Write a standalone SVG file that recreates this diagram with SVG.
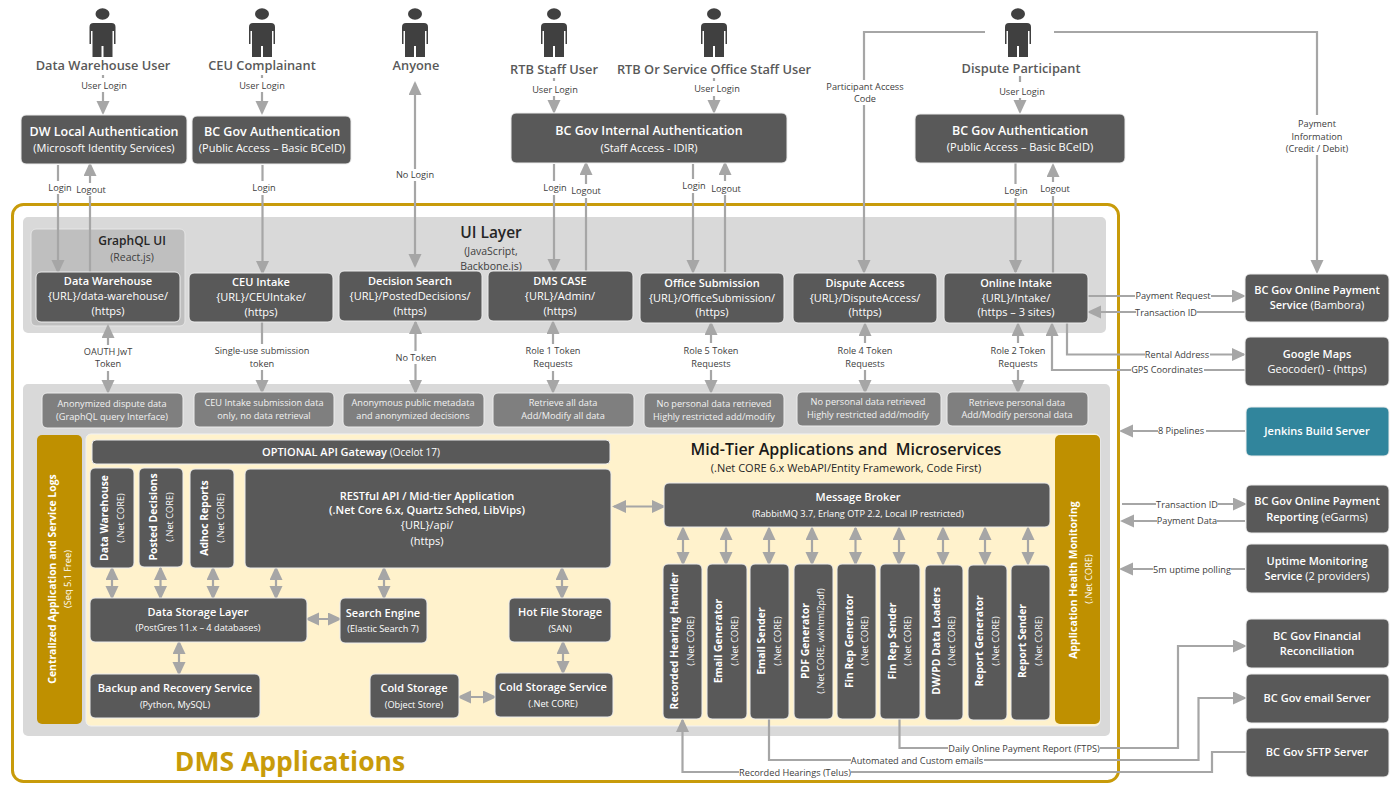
<svg xmlns="http://www.w3.org/2000/svg" width="1400" height="797" viewBox="0 0 1400 797">
<style>
text{font-family:"Open Sans","Liberation Sans",sans-serif;text-anchor:middle;white-space:pre}
.bg{fill:#fff}
.frame{fill:none;stroke:#c89b0a;stroke-width:3}
.layer{fill:#d9d9d9}
.n{fill:#595959;stroke:#ededed;stroke-width:1}
.g{fill:#7f7f7f;stroke:#ededed;stroke-width:1}
.side{fill:#bf9000}
.cream{fill:#fff2cc;stroke:#f2f2f2;stroke-width:1}
.t{fill:#fff;font-weight:600;font-size:11px}
.v{fill:#fff;font-weight:700;font-size:10.400px}
.s{fill:#fff;font-size:11px}
.h{fill:#fff;font-weight:600;font-size:12.500px}
.sm{fill:#fff;font-size:9.200px}
.gt{fill:#f2f2f2;font-size:9.200px}
.p{fill:#595959;font-weight:600;font-size:12.800px}
.l{fill:#404040;font-size:9.200px}
.c{fill:none;stroke:#a6a6a6;stroke-width:2.200}
.e{marker-end:url(#a)}
.b{marker-start:url(#a);marker-end:url(#a)}
</style>
<defs>
<marker id="a" markerUnits="userSpaceOnUse" markerWidth="15" markerHeight="14" viewBox="0 0 15 14" refX="12" refY="6.500" orient="auto-start-reverse"><path d="M0,0 L14,6.500 L0,13 Z" fill="#a6a6a6"/></marker>
<g id="person"><ellipse cx="0" cy="14" rx="7" ry="5.700" fill="#404040"/><path fill="#404040" d="M-9,23 H9 Q13,23 13,27 V44 H11.500 V31 H10 V57 H1 V46 H-1 V57 H-10 V31 H-11.500 V44 H-13 V27 Q-13,23 -9,23 Z"/></g>
</defs>
<rect class="bg" width="1400" height="797"/>

<g id="dms-frame"><rect class="frame" x="12.500" y="204.500" width="1106" height="577" rx="11"/><text x="290" y="771" font-size="26.500" font-weight="700" fill="#c89b0a">DMS Applications</text></g>
<g id="ui-layer"><rect class="layer" x="23" y="217" width="1083" height="116" rx="5"/><text x="491" y="238" font-size="15.500" font-weight="600" fill="#262626">UI Layer</text><text x="491" y="255" font-size="10.500" fill="#404040">(JavaScript,</text><text x="491" y="270" font-size="10.500" fill="#404040">Backbone.js)</text></g>
<g id="graphql-ui"><rect x="31" y="229" width="154" height="97" rx="5" fill="#bfbfbf" stroke="#e6e6e6"/><text x="132" y="245" font-size="12" font-weight="600" fill="#262626">GraphQL UI</text><text x="132" y="261" font-size="10.500" fill="#404040">(React.js)</text></g>
<g id="midtier-layer"><rect class="layer" x="23" y="384" width="1087" height="352" rx="5"/><rect class="cream" x="86" y="434" width="1014" height="292" rx="5"/><text x="846" y="455" font-size="16" font-weight="600" fill="#1a1a1a">Mid-Tier Applications and  Microservices</text><text x="846" y="472" font-size="11" fill="#262626">(.Net CORE 6.x WebAPI/Entity Framework, Code First)</text></g>

<g id="connectors">
<path class="c e" d="M103,75 V78 M103,92 V113"/>
<path class="c e" d="M262,75 V78 M262,92 V113"/>
<path class="c b" d="M415,83 V169 M415,181 V266"/>
<path class="c e" d="M554,78 V81 M554,96 V112"/>
<path class="c e" d="M714,78 V81 M714,96 V112"/>
<path class="c e" d="M1020,76 V82 M1020,98 V112"/>
<path class="c e" d="M58,165 V181 M58,194 V272"/>
<path class="c e" d="M90,272 V196 M90,183 V164"/>
<path class="c e" d="M262.500,165 V181 M262.500,195 V273"/>
<path class="c e" d="M554,164 V181 M554,195 V271"/>
<path class="c e" d="M586,271 V198 M586,184 V163"/>
<path class="c e" d="M693,164 V179 M693,193 V272"/>
<path class="c e" d="M725,272 V195 M725,181 V163"/>
<path class="c e" d="M985,32 H864 V80 M864,105 V272"/>
<path class="c e" d="M1015.500,163 V184 M1015.500,198 V272"/>
<path class="c e" d="M1053,273 V196 M1053,182 V165"/>
<path class="c e" d="M1054,32 H1317 V115 M1317,155 V272"/>
<path class="c b" d="M108,326 V345 M108,371 V392"/>
<path class="c e" d="M262,322 V344 M262,370 V392"/>
<path class="c b" d="M415.500,322 V351 M415.500,364 V392"/>
<path class="c b" d="M553,322 V344 M553,371 V392"/>
<path class="c b" d="M711,323 V343 M711,370 V392"/>
<path class="c b" d="M865,324 V343 M865,370 V392"/>
<path class="c b" d="M1018,324 V343 M1018,370 V392"/>
<path class="c e" d="M1088,296 H1135 M1211,296 H1244"/>
<path class="c e" d="M1245,312 H1197 M1136,312 H1089"/>
<path class="c e" d="M1067,323 V354.500 H1145 M1210,354.500 H1244"/>
<path class="c e" d="M1245,370 H1204 M1131,370 H1052 V324"/>
<path class="c e" d="M1245,431 H1206 M1158,431 H1121"/>
<path class="c e" d="M1122,504 H1156 M1218,504 H1245"/>
<path class="c e" d="M1245,521 H1217 M1157,521 H1122"/>
<path class="c e" d="M1245,569 H1231 M1153,569 H1121"/>
<path class="c e" d="M899.500,718 V748 H948 M1100,748 H1178 V646 H1245"/>
<path class="c e" d="M769,718 V760 H851 M984,760 H1198.500 V698 H1245"/>
<path class="c e" d="M1246,752 H1212 V772 H851 M739,772 H682.500 V720"/>
<path class="c b" d="M614,506.500 H664"/>
<path class="c b" d="M112,568 V598"/>
<path class="c b" d="M160.500,568 V598"/>
<path class="c b" d="M213,568 V598"/>
<path class="c b" d="M276,568 V598"/>
<path class="c b" d="M384,568 V598"/>
<path class="c b" d="M562,568 V598"/>
<path class="c b" d="M307,619 H340"/>
<path class="c b" d="M179,642 V674"/>
<path class="c b" d="M563,642 V673"/>
<path class="c b" d="M459,697 H495"/>
<path class="c b" d="M683,528 V564"/>
<path class="c b" d="M726,528 V564"/>
<path class="c b" d="M769,528 V564"/>
<path class="c b" d="M812,528 V564"/>
<path class="c b" d="M855.500,528 V564"/>
<path class="c b" d="M899,528 V564"/>
<path class="c b" d="M943,528 V564"/>
<path class="c b" d="M985,528 V564"/>
<path class="c b" d="M1028,528 V564"/>
</g>

<g id="connector-labels">
<text class="l" x="104" y="89">User Login</text>
<text class="l" x="262" y="89">User Login</text>
<text class="l" x="555" y="93">User Login</text>
<text class="l" x="717" y="92">User Login</text>
<text class="l" x="1022" y="95">User Login</text>
<text class="l" x="60" y="191">Login</text>
<text class="l" x="91" y="193">Logout</text>
<text class="l" x="264" y="191">Login</text>
<text class="l" x="415" y="178">No Login</text>
<text class="l" x="555" y="191">Login</text>
<text class="l" x="586" y="194">Logout</text>
<text class="l" x="694" y="189">Login</text>
<text class="l" x="726" y="192">Logout</text>
<text class="l" x="865" y="90">Participant Access</text>
<text class="l" x="865" y="102">Code</text>
<text class="l" x="1016" y="194">Login</text>
<text class="l" x="1055" y="192">Logout</text>
<text class="l" x="1317" y="127">Payment</text>
<text class="l" x="1317" y="140">Information</text>
<text class="l" x="1317" y="152">(Credit / Debit)</text>
<text class="l" x="108" y="355">OAUTH JwT</text>
<text class="l" x="108" y="367">Token</text>
<text class="l" x="262" y="354">Single-use submission</text>
<text class="l" x="262" y="367">token</text>
<text class="l" x="416" y="361">No Token</text>
<text class="l" x="553" y="354">Role 1 Token</text>
<text class="l" x="553" y="367">Requests</text>
<text class="l" x="711" y="354">Role 5 Token</text>
<text class="l" x="711" y="367">Requests</text>
<text class="l" x="865" y="354">Role 4 Token</text>
<text class="l" x="865" y="367">Requests</text>
<text class="l" x="1018" y="354">Role 2 Token</text>
<text class="l" x="1018" y="367">Requests</text>
<text class="l" x="1173" y="299">Payment Request</text>
<text class="l" x="1166" y="316">Transaction ID</text>
<text class="l" x="1177" y="358">Rental Address</text>
<text class="l" x="1167" y="373">GPS Coordinates</text>
<text class="l" x="1181" y="434">8 Pipelines</text>
<text class="l" x="1187" y="508">Transaction ID</text>
<text class="l" x="1187" y="524">Payment Data</text>
<text class="l" x="1192" y="573">5m uptime polling</text>
<text class="l" x="1024" y="752">Daily Online Payment Report (FTPS)</text>
<text class="l" x="917" y="764">Automated and Custom emails</text>
<text class="l" x="795" y="776">Recorded Hearings (Telus)</text>
</g>

<g id="u-dw"><use href="#person" x="102.500"/><text class="p" x="103" y="70">Data Warehouse User</text></g>
<g id="u-ceu"><use href="#person" x="262"/><text class="p" x="262" y="70">CEU Complainant</text></g>
<g id="u-anyone"><use href="#person" x="415"/><text class="p" x="416" y="70">Anyone</text></g>
<g id="u-rtb"><use href="#person" x="554"/><text class="p" x="554" y="74">RTB Staff User</text></g>
<g id="u-office"><use href="#person" x="714"/><text class="p" x="714" y="74">RTB Or Service Office Staff User</text></g>
<g id="u-participant"><use href="#person" x="1018"/><text class="p" x="1021" y="73">Dispute Participant</text></g>

<g id="auth-dw"><rect class="n" x="21" y="115" width="166" height="49" rx="5"/><text class="h" x="104" y="136">DW Local Authentication</text><text class="s" x="104" y="152">(Microsoft Identity Services)</text></g>
<g id="auth-ceu"><rect class="n" x="192" y="116" width="159" height="48" rx="5"/><text class="h" x="272" y="136">BC Gov Authentication</text><text class="s" x="272" y="152">(Public Access – Basic BCeID)</text></g>
<g id="auth-internal"><rect class="n" x="511" y="113" width="276" height="50" rx="5"/><text class="h" x="649" y="135">BC Gov Internal Authentication</text><text class="s" x="649" y="152">(Staff Access - IDIR)</text></g>
<g id="auth-public"><rect class="n" x="915" y="114" width="210" height="49" rx="5"/><text class="h" x="1020" y="135">BC Gov Authentication</text><text class="s" x="1020" y="151">(Public Access – Basic BCeID)</text></g>

<g id="ui-dw"><rect class="n" x="36" y="272" width="144" height="50" rx="5"/><text class="t" x="108" y="285">Data Warehouse</text><text class="s" x="108" y="300">{URL}/data-warehouse/</text><text class="s" x="108" y="315">(https)</text></g>
<g id="ui-ceu"><rect class="n" x="189" y="273" width="144" height="49" rx="5"/><text class="t" x="261" y="286">CEU Intake</text><text class="s" x="261" y="301">{URL}/CEUIntake/</text><text class="s" x="261" y="316">(https)</text></g>
<g id="ui-decision"><rect class="n" x="339" y="271" width="143" height="50" rx="5"/><text class="t" x="410" y="285">Decision Search</text><text class="s" x="410" y="300">{URL}/PostedDecisions/</text><text class="s" x="410" y="315">(https)</text></g>
<g id="ui-dms"><rect class="n" x="488" y="271" width="145" height="50" rx="5"/><text class="t" x="560" y="285">DMS CASE</text><text class="s" x="560" y="300">{URL}/Admin/</text><text class="s" x="560" y="315">(https)</text></g>
<g id="ui-office"><rect class="n" x="640" y="273" width="144" height="50" rx="5"/><text class="t" x="712" y="287">Office Submission</text><text class="s" x="712" y="302">{URL}/OfficeSubmission/</text><text class="s" x="712" y="316">(https)</text></g>
<g id="ui-dispute"><rect class="n" x="793" y="273" width="144" height="50" rx="5"/><text class="t" x="865" y="287">Dispute Access</text><text class="s" x="865" y="302">{URL}/DisputeAccess/</text><text class="s" x="865" y="316">(https)</text></g>
<g id="ui-online"><rect class="n" x="944" y="273" width="144" height="50" rx="5"/><text class="t" x="1016" y="287">Online Intake</text><text class="s" x="1016" y="302">{URL}/Intake/</text><text class="s" x="1016" y="316">(https – 3 sites)</text></g>

<g id="d1"><rect class="g" x="42" y="393" width="141" height="35" rx="5"/><text class="gt" x="112" y="407">Anonymized dispute data</text><text class="gt" x="112" y="420">(GraphQL query Interface)</text></g>
<g id="d2"><rect class="g" x="194" y="392" width="140" height="35" rx="5"/><text class="gt" x="264" y="406">CEU Intake submission data</text><text class="gt" x="264" y="419">only, no data retrieval</text></g>
<g id="d3"><rect class="g" x="343" y="393" width="141" height="34" rx="5"/><text class="gt" x="413" y="406">Anonymous public metadata</text><text class="gt" x="413" y="419">and anonymized decisions</text></g>
<g id="d4"><rect class="g" x="493" y="393" width="141" height="34" rx="5"/><text class="gt" x="563" y="406">Retrieve all data</text><text class="gt" x="563" y="419">Add/Modify all data</text></g>
<g id="d5"><rect class="g" x="644" y="393" width="140" height="35" rx="5"/><text class="gt" x="714" y="407">No personal data retrieved</text><text class="gt" x="714" y="420">Highly restricted add/modify</text></g>
<g id="d6"><rect class="g" x="797" y="392" width="144" height="34" rx="5"/><text class="gt" x="868" y="405">No personal data retrieved</text><text class="gt" x="868" y="418">Highly restricted add/modify</text></g>
<g id="d7"><rect class="g" x="947" y="392" width="141" height="34" rx="5"/><text class="gt" x="1017" y="406">Retrieve personal data</text><text class="gt" x="1017" y="418">Add/Modify personal data</text></g>

<g id="logs"><rect class="side" x="37" y="435" width="45" height="289" rx="5"/><text class="v" transform="translate(56 579) rotate(-90)">Centralized Application and Service Logs</text><text class="sm" transform="translate(71 579) rotate(-90)">(Seq 5.1 Free)</text></g>
<g id="health"><rect class="side" x="1055" y="435" width="45" height="289" rx="5"/><text class="v" transform="translate(1077 580) rotate(-90)">Application Health Monitoring</text><text class="sm" transform="translate(1092 579) rotate(-90)">(.Net CORE)</text></g>

<g id="gateway"><rect class="n" x="92" y="440" width="518" height="24" rx="4"/><text x="351" y="456" class="t">OPTIONAL API Gateway <tspan font-weight="400" font-size="10px">(Ocelot 17)</tspan></text></g>
<g id="s-dw"><rect class="n" x="90" y="468" width="44" height="100" rx="5"/><text class="v" transform="translate(108 518) rotate(-90)">Data Warehouse</text><text class="sm" transform="translate(123.500 518) rotate(-90)">(.Net CORE)</text></g>
<g id="s-posted"><rect class="n" x="139" y="468" width="44" height="99" rx="5"/><text class="v" transform="translate(157 517) rotate(-90)">Posted Decisions</text><text class="sm" transform="translate(172.500 517) rotate(-90)">(.Net CORE)</text></g>
<g id="s-adhoc"><rect class="n" x="190" y="469" width="44" height="99" rx="5"/><text class="v" transform="translate(208 518) rotate(-90)">Adhoc Reports</text><text class="sm" transform="translate(223.500 518) rotate(-90)">(.Net CORE)</text></g>
<g id="rest"><rect class="n" x="245" y="469" width="366" height="99" rx="5"/><text class="t" x="427" y="500">RESTful API / Mid-tier Application</text><text class="t" x="427" y="514">(.Net Core 6.x, Quartz Sched, LibVips)</text><text class="s" x="427" y="529">{URL}/api/</text><text class="s" x="427" y="545">(https)</text></g>
<g id="storage"><rect class="n" x="90" y="598" width="217" height="44" rx="5"/><text class="t" x="198" y="616">Data Storage Layer</text><text class="sm" x="198" y="631">(PostGres 11.x – 4 databases)</text></g>
<g id="search"><rect class="n" x="340" y="598" width="87" height="45" rx="5"/><text class="t" x="383" y="617">Search Engine</text><text class="sm" x="383" y="632">(Elastic Search 7)</text></g>
<g id="hot"><rect class="n" x="509" y="598" width="102" height="44" rx="5"/><text class="t" x="560" y="616">Hot File Storage</text><text class="sm" x="560" y="632">(SAN)</text></g>
<g id="backup"><rect class="n" x="90" y="674" width="170" height="44" rx="5"/><text class="t" x="175" y="692">Backup and Recovery Service</text><text class="sm" x="175" y="708">(Python, MySQL)</text></g>
<g id="cold"><rect class="n" x="370" y="674" width="89" height="44" rx="5"/><text class="t" x="414" y="692">Cold Storage</text><text class="sm" x="414" y="708">(Object Store)</text></g>
<g id="cold-svc"><rect class="n" x="495" y="673" width="118" height="44" rx="5"/><text class="t" x="553" y="691">Cold Storage Service</text><text class="sm" x="553" y="707">(.Net CORE)</text></g>
<g id="broker"><rect class="n" x="664" y="483" width="386" height="44" rx="5"/><text class="t" x="858" y="501">Message Broker</text><text class="sm" x="858" y="517">(RabbitMQ 3.7, Erlang OTP 2.2, Local IP restricted)</text></g>

<g id="m1"><rect class="n" x="663" y="564" width="39" height="155" rx="5"/><text class="v" transform="translate(678 641) rotate(-90)">Recorded Hearing Handler</text><text class="sm" transform="translate(694 641) rotate(-90)">(.Net CORE)</text></g>
<g id="m2"><rect class="n" x="707" y="564" width="40" height="155" rx="5"/><text class="v" transform="translate(722 641) rotate(-90)">Email Generator</text><text class="sm" transform="translate(738 641) rotate(-90)">(.Net CORE)</text></g>
<g id="m3"><rect class="n" x="750" y="564" width="39" height="155" rx="5"/><text class="v" transform="translate(765 641) rotate(-90)">Email Sender</text><text class="sm" transform="translate(781 641) rotate(-90)">(.Net CORE)</text></g>
<g id="m4"><rect class="n" x="794" y="564" width="39" height="155" rx="5"/><text class="v" transform="translate(809 641) rotate(-90)">PDF Generator</text><text class="sm" transform="translate(824 641) rotate(-90)">(.Net CORE, wkhtml2pdf)</text></g>
<g id="m5"><rect class="n" x="837" y="564" width="39" height="155" rx="5"/><text class="v" transform="translate(853 641) rotate(-90)">Fin Rep Generator</text><text class="sm" transform="translate(868 641) rotate(-90)">(.Net CORE)</text></g>
<g id="m6"><rect class="n" x="880" y="564" width="40" height="155" rx="5"/><text class="v" transform="translate(896 641) rotate(-90)">Fin Rep Sender</text><text class="sm" transform="translate(911 641) rotate(-90)">(.Net CORE)</text></g>
<g id="m7"><rect class="n" x="925" y="565" width="38" height="155" rx="5"/><text class="v" transform="translate(940 641) rotate(-90)">DW/PD Data Loaders</text><text class="sm" transform="translate(955 641) rotate(-90)">(.Net CORE)</text></g>
<g id="m8"><rect class="n" x="968" y="565" width="39" height="155" rx="5"/><text class="v" transform="translate(983 641) rotate(-90)">Report Generator</text><text class="sm" transform="translate(999 641) rotate(-90)">(.Net CORE)</text></g>
<g id="m9"><rect class="n" x="1011" y="565" width="39" height="155" rx="5"/><text class="v" transform="translate(1026 641) rotate(-90)">Report Sender</text><text class="sm" transform="translate(1042 641) rotate(-90)">(.Net CORE)</text></g>

<g id="x-payment"><rect class="n" x="1245" y="274" width="144" height="48" rx="5"/><text class="t" x="1317" y="294">BC Gov Online Payment</text><text class="t" x="1317" y="309">Service <tspan font-weight="400">(Bambora)</tspan></text></g>
<g id="x-maps"><rect class="n" x="1245" y="337" width="144" height="49" rx="5"/><text class="t" x="1317" y="358">Google Maps</text><text class="s" x="1317" y="373">Geocoder() - (https)</text></g>
<g id="x-jenkins"><rect x="1246" y="407" width="143" height="49" rx="5" fill="#31859c" stroke="#ededed"/><text class="t" x="1317" y="435">Jenkins Build Server</text></g>
<g id="x-report"><rect class="n" x="1246" y="485" width="143" height="48" rx="5"/><text class="t" x="1317" y="505">BC Gov Online Payment</text><text class="t" x="1317" y="521">Reporting <tspan font-weight="400">(eGarms)</tspan></text></g>
<g id="x-uptime"><rect class="n" x="1246" y="544" width="143" height="49" rx="5"/><text class="t" x="1317" y="565">Uptime Monitoring</text><text class="t" x="1317" y="580">Service <tspan font-weight="400">(2 providers)</tspan></text></g>
<g id="x-fin"><rect class="n" x="1246" y="619" width="143" height="49" rx="5"/><text class="t" x="1317" y="640">BC Gov Financial</text><text class="t" x="1317" y="655">Reconciliation</text></g>
<g id="x-email"><rect class="n" x="1246" y="674" width="143" height="49" rx="5"/><text class="t" x="1317" y="702">BC Gov email Server</text></g>
<g id="x-sftp"><rect class="n" x="1246" y="728" width="143" height="49" rx="5"/><text class="t" x="1317" y="756">BC Gov SFTP Server</text></g>
</svg>
